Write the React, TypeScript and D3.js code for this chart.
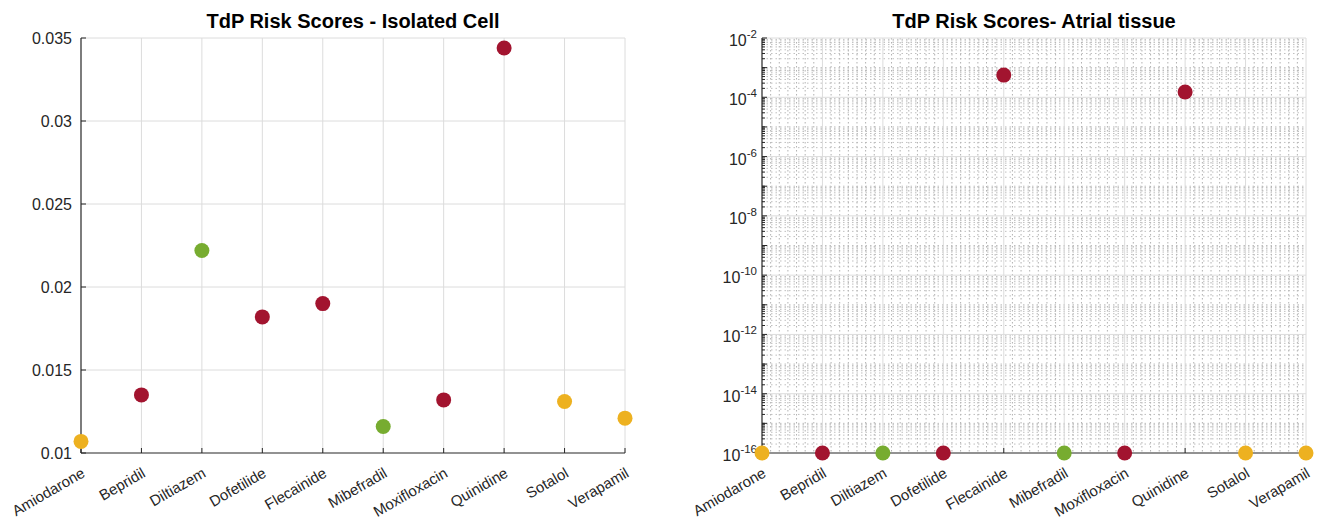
import React from 'react'
import * as d3 from 'd3'

const drugs = [
  'Amiodarone',
  'Bepridil',
  'Diltiazem',
  'Dofetilide',
  'Flecainide',
  'Mibefradil',
  'Moxifloxacin',
  'Quinidine',
  'Sotalol',
  'Verapamil'
]
const riskLevel = ['inter', 'high', 'low', 'high', 'high', 'low', 'high', 'high', 'inter', 'inter']
const cellScores = [0.0107, 0.0135, 0.0222, 0.0182, 0.019, 0.0116, 0.0132, 0.0344, 0.0131, 0.0121]
const atrialScores = [1e-16, 1e-16, 1e-16, 1e-16, 5.6e-4, 1e-16, 1e-16, 1.5e-4, 1e-16, 1e-16]
const cellTicks = [0.01, 0.015, 0.02, 0.025, 0.03, 0.035]
const atrialExps = [-16, -14, -12, -10, -8, -6, -4, -2]

const riskColor = { high: '#A2142F', low: '#77AC30', inter: '#EDB120' }

const top = 38
const bottom = 453
const axisColor = '#262626'
const gridColor = '#dcdcdc'
const font = 'Arial, "Liberation Sans", Helvetica, sans-serif'

function XLabels({ x }) {
  return (
    <g>
      {drugs.map(d => (
        <text
          key={d}
          transform={`translate(${x(d) + 5},${bottom + 23}) rotate(-30)`}
          textAnchor="end"
          fontSize={15}
          fill={axisColor}
        >
          {d}
        </text>
      ))}
    </g>
  )
}

function Markers({ x, y, values }) {
  return (
    <g>
      {drugs.map((d, i) => (
        <circle key={d} cx={x(d)} cy={y(values[i])} r={7.5} fill={riskColor[riskLevel[i]]} />
      ))}
    </g>
  )
}

function CellPanel() {
  const x = d3.scalePoint().domain(drugs).range([81, 625])
  const y = d3.scaleLinear().domain([0.01, 0.035]).range([bottom, top])
  const [x0, x1] = x.range()
  return (
    <g>
      {drugs.slice(1).map(d => (
        <line key={d} x1={x(d)} x2={x(d)} y1={top} y2={bottom} stroke={gridColor} />
      ))}
      {cellTicks.slice(1).map(t => (
        <line key={t} x1={x0} x2={x1} y1={y(t)} y2={y(t)} stroke={gridColor} />
      ))}
      <line x1={x0} x2={x0} y1={top} y2={bottom} stroke={axisColor} strokeWidth={1.2} />
      <line x1={x0} x2={x1} y1={bottom} y2={bottom} stroke={axisColor} strokeWidth={1.2} />
      {cellTicks.map(t => (
        <g key={t}>
          <line x1={x0} x2={x0 + 5} y1={y(t)} y2={y(t)} stroke={axisColor} />
          <text x={x0 - 9} y={y(t)} dy="0.35em" textAnchor="end" fontSize={16} fill={axisColor}>
            {d3.format('')(t)}
          </text>
        </g>
      ))}
      {drugs.map(d => (
        <line key={d} x1={x(d)} x2={x(d)} y1={bottom} y2={bottom - 5} stroke={axisColor} />
      ))}
      <XLabels x={x} />
      <Markers x={x} y={y} values={cellScores} />
      <text x={(x0 + x1) / 2} y={28} textAnchor="middle" fontSize={20} fontWeight="bold" fill="#000">
        TdP Risk Scores - Isolated Cell
      </text>
    </g>
  )
}

function AtrialPanel() {
  const x = d3.scalePoint().domain(drugs).range([762, 1306])
  const y = d3.scaleLog().domain([1e-16, 1e-2]).range([bottom, top])
  const [x0, x1] = x.range()
  const step = x.step()
  const decades = d3.range(-16, -2)
  const minorY = []
  decades.forEach(e => {
    for (let m = 2; m <= 9; m++) minorY.push(m * Math.pow(10, e))
    if (e % 2 !== 0) minorY.push(Math.pow(10, e))
  })
  const minorX = []
  drugs.slice(0, -1).forEach(d => {
    for (let k = 1; k < 7; k++) minorX.push(x(d) + (step * k) / 7)
  })
  return (
    <g>
      {minorX.map((v, i) => (
        <line key={i} x1={v} x2={v} y1={top} y2={bottom} stroke="#a8a8a8" strokeDasharray="1.5,2.5" strokeWidth={0.9} />
      ))}
      {minorY.map((v, i) => (
        <line key={i} x1={x0} x2={x1} y1={y(v)} y2={y(v)} stroke="#b8b8b8" strokeDasharray="1.5,3" strokeWidth={0.9} />
      ))}
      {drugs.slice(1).map(d => (
        <line key={d} x1={x(d)} x2={x(d)} y1={top} y2={bottom} stroke={gridColor} />
      ))}
      {atrialExps.slice(1).map(e => (
        <line key={e} x1={x0} x2={x1} y1={y(Math.pow(10, e))} y2={y(Math.pow(10, e))} stroke={gridColor} />
      ))}
      <line x1={x0} x2={x0} y1={top} y2={bottom} stroke={axisColor} strokeWidth={1.2} />
      <line x1={x0} x2={x1} y1={bottom} y2={bottom} stroke={axisColor} strokeWidth={1.2} />
      {minorY.map((v, i) => (
        <line key={i} x1={x0} x2={x0 + 3} y1={y(v)} y2={y(v)} stroke={axisColor} />
      ))}
      {d3.range(-16, -1).map(e => (
        <line key={e} x1={x0} x2={x0 + 5} y1={y(Math.pow(10, e))} y2={y(Math.pow(10, e))} stroke={axisColor} />
      ))}
      {atrialExps.map(e => (
        <text key={e} x={x0 - 5} y={y(Math.pow(10, e)) + 8} textAnchor="end" fontSize={16} fill={axisColor}>
          10
          <tspan dy={-8} fontSize={11.5}>
            {e}
          </tspan>
        </text>
      ))}
      {drugs.map(d => (
        <line key={d} x1={x(d)} x2={x(d)} y1={bottom} y2={bottom - 5} stroke={axisColor} />
      ))}
      <XLabels x={x} />
      <Markers x={x} y={y} values={atrialScores} />
      <text x={(x0 + x1) / 2} y={28} textAnchor="middle" fontSize={20} fontWeight="bold" fill="#000">
        TdP Risk Scores- Atrial tissue
      </text>
    </g>
  )
}

export default function App() {
  return (
    <svg
      width={1317}
      height={521}
      style={{ position: 'absolute', left: 0, top: 0, background: '#fff' }}
      fontFamily={font}
    >
      <CellPanel />
      <AtrialPanel />
    </svg>
  )
}
